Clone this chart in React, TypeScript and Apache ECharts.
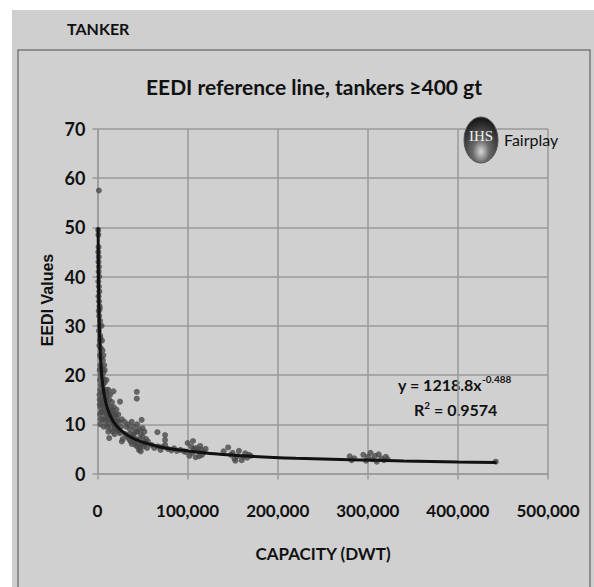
import React, { useEffect, useRef } from "react";
import * as echarts from "echarts";

// Scatter data: [capacity (dwt), EEDI]
const smallTankers: number[][] = [
  [1500, 57.5], [800, 49.5], [1000, 48.5], [1200, 46], [900, 45], [1400, 44], [1100, 43], [1600, 42],
  [1300, 41], [1800, 40], [1000, 39], [1500, 38], [2000, 37], [1200, 36], [1700, 35], [2200, 34],
  [1400, 33], [2500, 33.5], [1900, 32], [2800, 31], [2300, 30], [1600, 29], [3000, 28], [2600, 27],
  [3300, 27.5], [2000, 26], [3600, 25.5], [2800, 24], [4000, 23.5], [3200, 22], [2400, 21], [4400, 21.5],
  [3500, 20], [2700, 19], [3000, 17], [2500, 15], [3200, 13.5], [2900, 12], [3500, 11], [3100, 10],
  [2200, 16], [2600, 14], [3800, 18], [4200, 16.5], [4800, 14], [4000, 12.5], [3600, 15],
];
const productTankers: number[][] = [
  [4500, 30], [5000, 27], [5500, 25], [6000, 23], [5200, 21], [6500, 20.5], [7000, 19], [6000, 18],
  [8000, 18.5], [7500, 17], [9000, 16.5], [5500, 16], [8500, 15.5], [10000, 15], [6500, 14.5], [11000, 14],
  [9500, 13.5], [7000, 13], [12000, 13], [8000, 12.5], [13000, 12], [10500, 12], [5000, 12.5], [14000, 11.5],
  [11500, 11], [6000, 11], [15000, 11], [9000, 10.5], [16000, 10.8], [12500, 10], [17000, 10.5], [18000, 10],
  [7000, 9.5], [13000, 7.2], [12000, 8.5], [19000, 9.5], [20000, 9.8], [21000, 9], [22000, 9.3], [23000, 8.8],
  [24000, 8.5], [25000, 8.2], [20000, 12], [18000, 13.5], [16000, 14.5], [22000, 11], [24000, 10.5], [26000, 9.5],
  [14000, 16], [12000, 17], [10000, 19], [8000, 21], [6500, 24], [15000, 12.5], [17000, 8.5], [19000, 8],
  [25000, 14.6], [17700, 16.7], [21000, 13], [23000, 12], [9000, 11.5], [11000, 9.5], [15000, 9],
  [13000, 15], [19000, 11.5], [10000, 17], [7500, 22], [5800, 19.5], [16500, 12.8], [27000, 11],
  [11000, 16], [9000, 14], [14500, 13.5], [18500, 12], [21500, 10.5], [7800, 15], [6800, 16.5],
];
const handyTankers: number[][] = [
  [30000, 10.5], [32000, 9.5], [34000, 10], [36000, 9], [38000, 10.5], [40000, 9.5], [42000, 8.5], [44000, 10],
  [46000, 9], [48000, 8], [49000, 10.9], [50000, 7.5], [52000, 8.5], [54000, 7], [56000, 6.5], [31000, 8],
  [33000, 7.5], [35000, 7], [37000, 6.5], [39000, 7.5], [41000, 6.5], [43000, 7], [45000, 6], [47000, 7],
  [49000, 6], [51000, 5.5], [53000, 6.5], [55000, 5.2], [46000, 4.8], [48000, 4.5], [44000, 5.5], [28000, 7],
  [27000, 6.5], [43600, 16.6], [43600, 15.2], [36000, 8], [40000, 8], [44000, 8.5], [38000, 6], [42000, 5.8],
  [50000, 9.2], [52000, 6], [47000, 5.2],
];
const panamaxTankers: number[][] = [
  [66500, 8.4], [75000, 7.8], [75000, 6.8], [75000, 5.8], [60000, 5.8], [63000, 5.2], [67000, 5.5], [70000, 4.8],
  [72000, 5.4], [78000, 5], [82000, 4.7], [85000, 5.1], [88000, 4.6], [92000, 4.8], [96000, 4.5], [98000, 4.4],
];
const aframaxTankers: number[][] = [
  [100000, 6.2], [104000, 5.5], [106000, 6.6], [108000, 4.8], [110000, 5.2], [105000, 4.2], [112000, 4.5],
  [114000, 5.6], [116000, 3.8], [118000, 4.3], [120000, 5], [102000, 3.6], [109000, 3.3], [113000, 3.5],
  [115000, 4.8], [107000, 5.0],
];
const suezmaxTankers: number[][] = [
  [140000, 4.5], [145000, 5.3], [148000, 3.8], [150000, 4.2], [152000, 3.0], [155000, 3.5], [157000, 4.6],
  [160000, 2.7], [162000, 3.4], [164000, 4.1], [166000, 3.2], [168000, 3.8], [170000, 3.6], [153000, 2.6],
];
const vlccTankers: number[][] = [
  [280000, 3.5], [282000, 2.7], [285000, 3.1], [295000, 3.8], [298000, 2.6], [300000, 3.4], [303000, 4.2],
  [305000, 2.9], [308000, 3.6], [310000, 2.4], [312000, 3.9], [315000, 3.1], [318000, 2.7], [320000, 3.4],
  [322000, 2.9], [442000, 2.4],
];
// Reference (trend) line
const referenceLine: number[][] = [
  [700, 50], [1000, 42], [1500, 34.5], [2000, 30], [3000, 24.8], [4000, 21.5], [5000, 19.3], [7000, 16.5],
  [10000, 13.8], [14000, 11.8], [20000, 9.9], [30000, 8.2], [40000, 7.1], [55000, 6.1], [75000, 5.2],
  [100000, 4.6], [130000, 4.0], [170000, 3.5], [220000, 3.1], [280000, 2.8], [340000, 2.55], [400000, 2.35],
  [443000, 2.25],
];
const xTicks = [0, 100000, 200000, 300000, 400000, 500000];
const yTicks = [0, 10, 20, 30, 40, 50, 60, 70];

const NARROW = "Lato, 'Noto Sans', sans-serif";

export default function App() {
  const ref = useRef<HTMLDivElement>(null);
  useEffect(() => {
    if (!ref.current) return;
    const chart = echarts.init(ref.current, undefined, { renderer: "svg" });
    const allPoints = [
      ...smallTankers, ...productTankers, ...handyTankers, ...panamaxTankers,
      ...aframaxTankers, ...suezmaxTankers, ...vlccTankers,
    ];
    const gridColor = "#9a9a9a";
    chart.setOption({
      animation: false,
      backgroundColor: "#ffffff",
      graphic: [
        { type: "rect", z: -10, shape: { x: 12, y: 10, width: 582, height: 577 }, style: { fill: "#cfcfcf" } },
        {
          type: "rect", z: -9,
          shape: { x: 18, y: 50, width: 572, height: 545 },
          style: { fill: "#d0d0d0", stroke: "#7a7a7a", lineWidth: 1.5 },
        },
        {
          type: "text", x: 67, y: 28,
          style: { text: "TANKER", font: `bold 16px ${NARROW}`, fill: "#111", verticalAlign: "middle" },
        },
        {
          type: "text", x: 314, y: 86,
          style: {
            text: "EEDI reference line, tankers \u2265400 gt", font: `bold 21px ${NARROW}`,
            fill: "#111", align: "center", verticalAlign: "middle",
          },
        },
        {
          type: "text", x: 47, y: 300, rotation: Math.PI / 2,
          style: {
            text: "EEDI Values", font: "bold 16px 'Liberation Sans', Arial, sans-serif",
            fill: "#111", align: "center", verticalAlign: "middle",
          },
        },
        {
          type: "text", x: 323, y: 553,
          style: {
            text: "CAPACITY (DWT)", font: `bold 17px ${NARROW}`,
            fill: "#111", align: "center", verticalAlign: "middle",
          },
        },
        {
          type: "text", x: 398, y: 384,
          style: {
            text: "{m|y = 1218.8x}{s|-0.488}",
            fill: "#111", align: "left", verticalAlign: "middle",
            rich: {
              m: { font: `bold 16px ${NARROW}`, fill: "#111" },
              s: { font: `bold 10px ${NARROW}`, fill: "#111", padding: [0, 0, 10, 0] },
            },
          },
        },
        {
          type: "text", x: 414, y: 409,
          style: {
            text: "{m|R}{s|2}{m| = 0.9574}",
            fill: "#111", align: "left", verticalAlign: "middle",
            rich: {
              m: { font: `bold 16px ${NARROW}`, fill: "#111" },
              s: { font: `bold 10px ${NARROW}`, fill: "#111", padding: [0, 0, 8, 0] },
            },
          },
        },
        {
          type: "ellipse", z: 10,
          shape: { cx: 481, cy: 140, rx: 17, ry: 23 },
          style: {
            fill: new echarts.graphic.RadialGradient(0.5, 0.75, 0.7, [
              { offset: 0, color: "#d8d8d8" },
              { offset: 0.35, color: "#6a6a6a" },
              { offset: 1, color: "#1a1a1a" },
            ]),
            stroke: "#555", lineWidth: 1,
          },
        },
        {
          type: "text", z: 11, x: 481, y: 136,
          style: {
            text: "IHS", font: "15px 'Liberation Serif', serif", fill: "#f0f0f0",
            align: "center", verticalAlign: "middle",
          },
        },
        {
          type: "text", z: 11, x: 504, y: 139,
          style: {
            text: "Fairplay", font: `16px 'Liberation Sans Narrow', ${NARROW}`, fill: "#111",
            align: "left", verticalAlign: "middle",
          },
        },
      ],
      grid: { left: 97.5, top: 129, width: 450.5, height: 344.5, containLabel: false },
      xAxis: {
        type: "value", min: xTicks[0], max: xTicks[xTicks.length - 1], interval: 100000,
        axisLine: { show: true, lineStyle: { color: gridColor, width: 1.5 } },
        axisTick: { show: true, length: 6, lineStyle: { color: gridColor, width: 1.5 } },
        splitLine: { show: true, lineStyle: { color: gridColor, width: 1.5 } },
        axisLabel: {
          margin: 28, color: "#111", fontFamily: NARROW, fontWeight: "bold", fontSize: 17,
          formatter: (v: number) => v.toLocaleString("en-US"),
        },
      },
      yAxis: {
        type: "value", min: yTicks[0], max: yTicks[yTicks.length - 1], interval: 10,
        axisLine: { show: true, lineStyle: { color: gridColor, width: 1.5 } },
        axisTick: { show: true, length: 5, lineStyle: { color: gridColor, width: 1.5 } },
        splitLine: { show: true, lineStyle: { color: gridColor, width: 1.5 } },
        axisLabel: { margin: 12, color: "#111", fontFamily: NARROW, fontWeight: "bold", fontSize: 18 },
      },
      series: [
        {
          type: "scatter", data: allPoints, symbol: "circle", symbolSize: 6,
          itemStyle: { color: "#4a4a4a" },
        },
        {
          type: "line", data: referenceLine, smooth: 0.3, showSymbol: false,
          lineStyle: { color: "#111", width: 3 },
        },
      ],
    });
    return () => chart.dispose();
  }, []);
  return (
    <div
      ref={ref}
      style={{ position: "fixed", left: 0, top: 0, width: 594, height: 587 }}
    />
  );
}
